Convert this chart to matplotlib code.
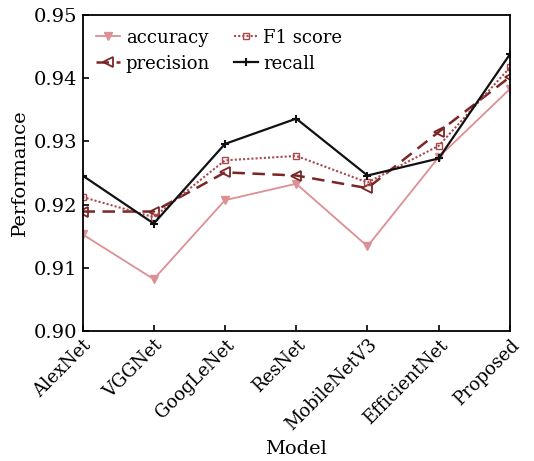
import matplotlib
matplotlib.use("Agg")
import matplotlib.pyplot as plt

models = ["AlexNet", "VGGNet", "GoogLeNet", "ResNet", "MobileNetV3", "EfficientNet", "Proposed"]
accuracy = [0.9153, 0.9082, 0.9207, 0.9233, 0.9134, 0.9275, 0.9383]
precision = [0.9189, 0.9189, 0.9251, 0.9246, 0.9226, 0.9315, 0.9402]
f1_score = [0.9212, 0.9180, 0.9270, 0.9277, 0.9235, 0.9293, 0.9417]
recall = [0.9246, 0.9170, 0.9296, 0.9336, 0.9246, 0.9273, 0.9438]
yticks = [0.90, 0.91, 0.92, 0.93, 0.94, 0.95]
ytick_labels = ["0.90", "0.91", "0.92", "0.93", "0.94", "0.95"]

plt.rcParams['font.family'] = ['DejaVu Serif']
plt.rcParams['mathtext.fontset'] = 'dejavuserif'

fig = plt.figure(figsize=(5.34, 4.61), dpi=100)
ax = fig.add_axes([0.1545, 0.282, 0.8005, 0.6855])
x = list(range(len(models)))

ax.plot(x, accuracy, color='#dc8f94', lw=1.3, marker='v', ms=6, label='accuracy')
ax.plot(x, precision, color='#7b2626', lw=1.8, ls=(0, (5, 3)), marker='<', ms=6.5,
        mfc='none', mew=1.3, label='precision')
ax.plot(x, f1_score, color='#a8494c', lw=1.5, ls=(0, (1, 1)), marker='s', ms=4.5,
        mfc='none', mew=1.0, label='F1 score')
ax.plot(x, recall, color='#111111', lw=1.6, marker='+', ms=6, mew=1.5, label='recall')

ax.set_xlim(0, 6)
ax.set_ylim(0.90, 0.95)
ax.set_xticks(x)
ax.set_xticklabels(models, rotation=45, ha='right', rotation_mode='anchor', fontsize=13)
ax.set_yticks(yticks)
ax.set_yticklabels(ytick_labels, fontsize=14)
ax.tick_params(direction='in', length=4, width=1.2)
for s in ax.spines.values():
    s.set_linewidth(1.3)
ax.set_xlabel('Model', fontsize=14)
ax.set_ylabel('Performance', fontsize=14)

ax.legend(ncol=2, loc='upper left', frameon=False, fontsize=13, handlelength=1.35,
          handletextpad=0.3, columnspacing=1.3, labelspacing=0.45,
          borderaxespad=0.35)

fig.savefig('out.png', dpi=100)
